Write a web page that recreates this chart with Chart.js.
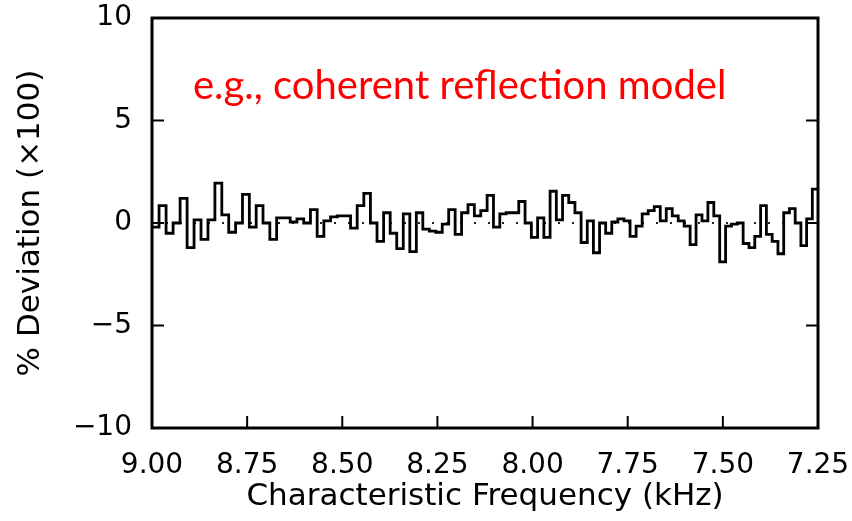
<!DOCTYPE html>
<html>
<head>
<meta charset="utf-8">
<script src="https://cdn.jsdelivr.net/npm/chart.js@4/dist/chart.umd.min.js"></script>
<style>
  html, body { margin: 0; padding: 0; background: #fff; }
  #wrap { width: 852px; height: 521px; }
</style>
</head>
<body>
<div id="wrap"><canvas id="dev_chart" width="852" height="521"></canvas></div>
<script>
// frequency range of the panel (kHz), axis runs high -> low
const freqStart = 9.00;
const freqEnd = 7.25;
const xTicks = [9.00, 8.75, 8.50, 8.25, 8.00, 7.75, 7.50, 7.25];
const yTicks = [10, 5, 0, -5, -10];

// % deviation (x100), one value per bin, left to right
const deviation = [
  -0.2, 0.85, -0.5, 0.0, 1.2, -1.2, 0.15, -0.8, 0.15, 1.95,
  0.4, -0.45, 0.0, 1.4, -0.2, 0.85, 0.0, -0.8, 0.25, 0.25,
  0.05, 0.2, 0.0, 0.65, -0.65, 0.1, 0.3, 0.35, 0.35, -0.25,
  0.85, 1.45, 0.0, -0.9, 0.5, -0.5, -1.25, 0.45, -1.4, 0.5,
  -0.3, -0.4, -0.45, -0.05, 0.65, -0.55, 0.5, 0.9, 0.35, 0.6,
  1.35, -0.2, 0.45, 0.5, 0.5, 1.05, 0.0, -0.7, 0.25, -0.7,
  1.55, 0.15, 1.35, 1.0, 0.5, -0.95, 0.1, -1.45, 0.0, -0.5,
  0.05, 0.2, 0.1, -0.65, -0.15, 0.45, 0.6, 0.8, 0.1, 0.7,
  0.35, 0.1, -0.15, -1.05, 0.4, 0.1, 1.0, 0.35, -1.9, -0.15,
  -0.05, 0.0, -1.0, -1.2, -0.65, 0.85, -0.55, -0.9, -1.5, 0.5,
  0.7, 0.0, -1.1, 0.2, 1.65
];

const annotation = 'e.g., coherent reflection model';

// bins are evenly spaced in log frequency
function binEdges(n) {
  const edges = [];
  for (let i = 0; i <= n; i++) {
    edges.push(freqStart * Math.pow(freqEnd / freqStart, i / n));
  }
  return edges;
}

const edges = binEdges(deviation.length);
const stepData = edges.map((f, i) => ({
  x: f,
  y: deviation[Math.min(i, deviation.length - 1)]
}));

const frameAndTicks = {
  id: 'frameAndTicks',
  afterDraw(chart) {
    const ctx = chart.ctx;
    const a = chart.chartArea;
    const xs = chart.scales.x;
    const ys = chart.scales.y;
    ctx.save();
    ctx.strokeStyle = '#000';
    ctx.lineWidth = 3;
    ctx.strokeRect(a.left, a.top, a.right - a.left, a.bottom - a.top);
    ctx.lineWidth = 2;
    ctx.beginPath();
    yTicks.forEach(v => {
      const py = ys.getPixelForValue(v);
      ctx.moveTo(a.left, py); ctx.lineTo(a.left + 12, py);
      ctx.moveTo(a.right, py); ctx.lineTo(a.right - 12, py);
    });
    xTicks.forEach(v => {
      const px = xs.getPixelForValue(v);
      ctx.moveTo(px, a.bottom); ctx.lineTo(px, a.bottom - 12);
    });
    ctx.stroke();

    // red note inside the plot
    ctx.font = '40px Lato';
    ctx.fillStyle = '#ff0000';
    ctx.textBaseline = 'alphabetic';
    ctx.fillText(annotation, 193, 99);
    ctx.restore();
  }
};

new Chart(
  document.getElementById('dev_chart'),
  {
    type: 'line',
    data: {
      datasets: [
        {
          label: 'deviation',
          data: stepData,
          stepped: true,
          borderColor: '#000',
          borderWidth: 2.8,
          pointRadius: 0,
          fill: false
        },
        {
          label: 'baseline',
          data: [{ x: freqStart, y: 0 }, { x: freqEnd, y: 0 }],
          borderColor: '#222',
          borderWidth: 2,
          borderDash: [2, 12],
          pointRadius: 0,
          fill: false
        }
      ]
    },
    options: {
      responsive: false,
      animation: false,
      layout: { padding: { top: 18, right: 34, left: 0, bottom: 0 } },
      plugins: { legend: { display: false }, tooltip: { enabled: false } },
      scales: {
        x: {
          type: 'linear',
          reverse: true,
          min: freqEnd,
          max: freqStart,
          afterBuildTicks: s => { s.ticks = xTicks.map(v => ({ value: v })); },
          afterFit: s => { s.height = 93; s.paddingLeft = 0; s.paddingRight = 0; },
          grid: { display: false, drawTicks: false },
          border: { display: false },
          ticks: {
            color: '#000',
            padding: 21,
            maxRotation: 0,
            autoSkip: false,
            font: { family: 'DejaVu Sans', size: 28 },
            callback: v => Number(v).toFixed(2)
          },
          title: {
            display: true,
            text: 'Characteristic Frequency (kHz)',
            color: '#000',
            font: { family: 'DejaVu Sans', size: 31 },
            padding: { top: 0, bottom: 5 }
          }
        },
        y: {
          min: -10,
          max: 10,
          afterBuildTicks: s => { s.ticks = yTicks.map(v => ({ value: v })); },
          afterFit: s => { s.width = 152; s.paddingTop = 0; s.paddingBottom = 0; },
          grid: { display: false, drawTicks: false },
          border: { display: false },
          ticks: {
            color: '#000',
            padding: 20,
            font: { family: 'DejaVu Sans', size: 28 },
            callback: v => (v < 0 ? '\u2212' + Math.abs(v) : String(v))
          },
          title: {
            display: true,
            text: '% Deviation (\u00d7100)',
            color: '#000',
            font: { family: 'DejaVu Sans', size: 31 },
            padding: { top: 12, bottom: 0 }
          }
        }
      }
    },
    plugins: [frameAndTicks]
  }
);
</script>
</body>
</html>
